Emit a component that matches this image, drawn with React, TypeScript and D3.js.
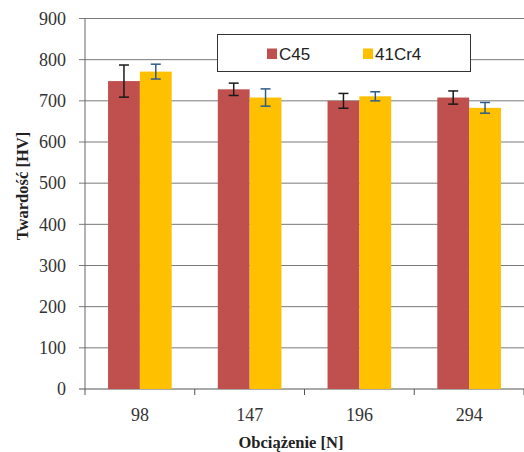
import React from "react";
import * as d3 from "d3";

const categories = ["98", "147", "196", "294"];
const seriesNames = ["C45", "41Cr4"];
const c45Values = [748, 728, 700, 708];
const c45Errors = [39, 15, 18, 16];
const cr4Values = [771, 708, 711, 683];
const cr4Errors = [18, 21, 11, 13];
const yTicks = [0, 100, 200, 300, 400, 500, 600, 700, 800, 900];

const colors = ["#C0504D", "#FFC000"];
const errColors = ["#1a1a1a", "#2E5C8A"];
const SERIF = "'Liberation Serif', 'Times New Roman', 'DejaVu Serif', serif";
const SANS = "'Liberation Sans', Arial, sans-serif";

export default function App() {
  const W = 524, H = 452;
  const left = 85, right = 524, top = 18.5, bottom = 389;
  const x = d3.scaleBand().domain(categories).range([left, right]).paddingInner(0.42).paddingOuter(0.21);
  const inner = d3.scaleBand().domain(seriesNames).range([0, x.bandwidth()]);
  const y = d3.scaleLinear().domain([0, 900]).range([bottom, top]);
  const series = [
    { name: seriesNames[0], vals: c45Values, errs: c45Errors },
    { name: seriesNames[1], vals: cr4Values, errs: cr4Errors },
  ];
  const step = (right - left) / categories.length;
  return (
    <svg width={W} height={H} style={{ position: "absolute", left: 0, top: 0, background: "#fff" }}>
      {yTicks.map((t) => (
        <g key={t}>
          <line x1={left - 6} x2={right} y1={y(t)} y2={y(t)} stroke={t === 0 ? "#555" : "#7a7a7a"} strokeWidth={1} />
          <text x={66} y={y(t)} dy="0.35em" textAnchor="end" style={{ fontFamily: SERIF }} fontSize={18} fill="#333">{t}</text>
        </g>
      ))}
      <line x1={left} x2={left} y1={top} y2={bottom} stroke="#666" />
      {categories.map((c, i) => (
        <line key={c} x1={left + step * (i + 1)} x2={left + step * (i + 1)} y1={bottom} y2={bottom + 6} stroke="#555" />
      ))}
      <line x1={left} x2={left} y1={bottom} y2={bottom + 6} stroke="#555" />
      {series.map((s, si) =>
        categories.map((c, i) => {
          const bx = (x(c) as number) + (inner(s.name) as number);
          const bw = inner.bandwidth();
          const cx = bx + bw / 2;
          return (
            <g key={s.name + c}>
              <rect x={bx} y={y(s.vals[i])} width={bw} height={bottom - y(s.vals[i])} fill={colors[si]} />
              <line x1={cx} x2={cx} y1={y(s.vals[i] + s.errs[i])} y2={y(s.vals[i] - s.errs[i])} stroke={errColors[si]} strokeWidth={1.5} />
              <line x1={cx - 5} x2={cx + 5} y1={y(s.vals[i] + s.errs[i])} y2={y(s.vals[i] + s.errs[i])} stroke={errColors[si]} strokeWidth={1.5} />
              <line x1={cx - 5} x2={cx + 5} y1={y(s.vals[i] - s.errs[i])} y2={y(s.vals[i] - s.errs[i])} stroke={errColors[si]} strokeWidth={1.5} />
            </g>
          );
        })
      )}
      {categories.map((c) => (
        <text key={c} x={(x(c) as number) + x.bandwidth() / 2} y={421} textAnchor="middle" style={{ fontFamily: SERIF }} fontSize={18} fill="#333">{c}</text>
      ))}
      <text x={291} y={448} textAnchor="middle" style={{ fontFamily: SERIF }} fontSize={16.5} fontWeight="bold" fill="#222">Obciążenie [N]</text>
      <text transform="translate(28,186) rotate(-90)" textAnchor="middle" style={{ fontFamily: SERIF }} fontSize={16.5} fontWeight="bold" fill="#222">Twardość  [HV]</text>
      <rect x={217.5} y={34.5} width={253} height={37} fill="#fff" stroke="#333" strokeWidth={1} />
      {seriesNames.map((n, i) => (
        <g key={n}>
          <rect x={267 + i * 96} y={48.5} width={10} height={10.5} fill={colors[i]} />
          <text x={279 + i * 96} y={59.5} style={{ fontFamily: SANS }} fontSize={17} fill="#222">{n}</text>
        </g>
      ))}
    </svg>
  );
}
